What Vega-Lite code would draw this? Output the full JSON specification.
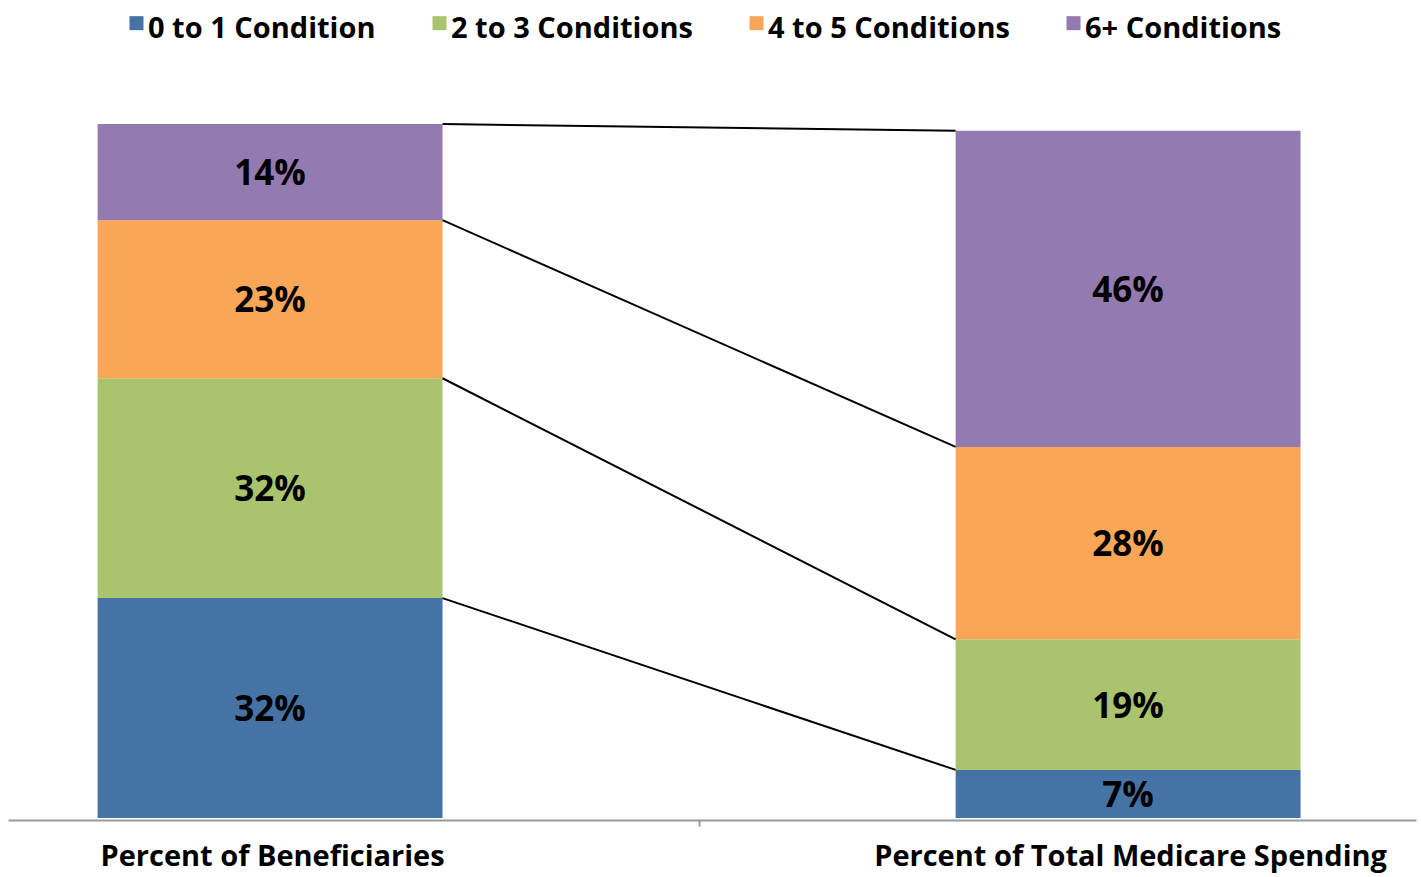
{
  "$schema": "https://vega.github.io/schema/vega-lite/v6.json",
  "width": 1408,
  "height": 694,
  "autosize": {"type": "none"},
  "padding": {"left": 8, "top": 124, "right": 5, "bottom": 59},
  "config": {"view": {"stroke": null}, "font": "Open Sans"},
  "datasets": {
    "bars": [
      {"measure": "Percent of Beneficiaries", "group": "0 to 1 Condition", "share": 0.32},
      {"measure": "Percent of Beneficiaries", "group": "2 to 3 Conditions", "share": 0.32},
      {"measure": "Percent of Beneficiaries", "group": "4 to 5 Conditions", "share": 0.23},
      {"measure": "Percent of Beneficiaries", "group": "6+ Conditions", "share": 0.14},
      {"measure": "Percent of Total Medicare Spending", "group": "0 to 1 Condition", "share": 0.07},
      {"measure": "Percent of Total Medicare Spending", "group": "2 to 3 Conditions", "share": 0.19},
      {"measure": "Percent of Total Medicare Spending", "group": "4 to 5 Conditions", "share": 0.28},
      {"measure": "Percent of Total Medicare Spending", "group": "6+ Conditions", "share": 0.46}
    ],
    "links": [
      {"from": "Percent of Beneficiaries", "to": "Percent of Total Medicare Spending", "y_from": 1.01, "y_to": 1.0},
      {"from": "Percent of Beneficiaries", "to": "Percent of Total Medicare Spending", "y_from": 0.87, "y_to": 0.54},
      {"from": "Percent of Beneficiaries", "to": "Percent of Total Medicare Spending", "y_from": 0.64, "y_to": 0.26},
      {"from": "Percent of Beneficiaries", "to": "Percent of Total Medicare Spending", "y_from": 0.32, "y_to": 0.07}
    ]
  },
  "layer": [
    {
      "data": {"name": "bars"},
      "mark": {"type": "bar"},
      "encoding": {
        "x": {
          "field": "measure", "type": "nominal", "sort": null,
          "scale": {"paddingInner": 0.598, "paddingOuter": 0.1195, "align": 0.437},
          "axis": {
            "title": null, "labelAngle": 0, "labelFontSize": 29, "labelFontWeight": "bold",
            "labelColor": "black", "labelFont": "Open Sans", "labelLimit": 700,
            "domainColor": "#9a9a9a", "domainWidth": 2,
            "tickColor": "#9a9a9a", "tickWidth": 2, "tickSize": 6,
            "tickOffset": 429, "labelOffset": -427,
            "labelPadding": 16, "offset": 2, "labelBaseline": "top"
          }
        },
        "y": {"field": "share", "type": "quantitative", "stack": "zero", "scale": {"domain": [0, 1.01], "nice": false, "zero": true}, "axis": null},
        "color": {
          "field": "group", "type": "nominal",
          "scale": {
            "domain": ["0 to 1 Condition", "2 to 3 Conditions", "4 to 5 Conditions", "6+ Conditions"],
            "range": ["#4673A5", "#A9C46C", "#F9A657", "#937BB1"]
          },
          "legend": {
            "orient": "none", "direction": "horizontal", "columns": 4,
            "legendX": 114, "legendY": -110, "title": null, "padding": 0,
            "labelFontSize": 29, "labelFontWeight": "bold", "labelColor": "black",
            "labelFont": "Open Sans", "labelLimit": 400, "labelOffset": -3,
            "symbolType": "M-1,-1.8H1V0.2H-1Z", "symbolSize": 196, "symbolStrokeWidth": 0,
            "symbolOpacity": 1, "columnPadding": 49
          }
        },
        "order": {"field": "group", "sort": "ascending"}
      }
    },
    {
      "data": {"name": "bars"},
      "mark": {"type": "text", "fontSize": 35, "fontWeight": "bold", "font": "Open Sans", "baseline": "middle", "color": "black", "dy": 2},
      "encoding": {
        "x": {"field": "measure", "type": "nominal", "sort": null},
        "y": {"field": "share", "type": "quantitative", "stack": "zero", "bandPosition": 0.5, "scale": {"domain": [0, 1.01], "nice": false}},
        "detail": {"field": "group"},
        "order": {"field": "group", "sort": "ascending"},
        "text": {"field": "share", "type": "quantitative", "format": ".0%"}
      }
    },
    {
      "data": {"name": "links"},
      "mark": {"type": "rule", "color": "black", "strokeWidth": 2},
      "encoding": {
        "x": {"field": "from", "type": "nominal", "bandPosition": 1},
        "x2": {"field": "to", "bandPosition": 0},
        "y": {"field": "y_from", "type": "quantitative", "scale": {"domain": [0, 1.01], "nice": false}},
        "y2": {"field": "y_to"}
      }
    }
  ]
}
